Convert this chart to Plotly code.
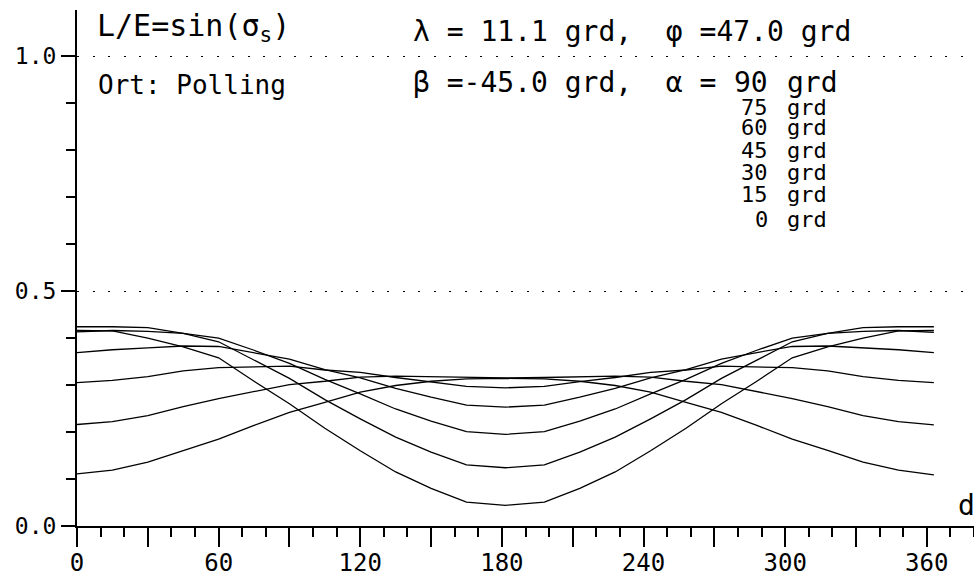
import plotly.graph_objects as go

# day of year
days = [0, 15, 30, 45, 60, 75, 90, 105, 120, 135, 150, 165, 181.5,
        198, 213, 228, 243, 258, 273, 288, 303, 318, 333, 348, 363]

# L/E for tilt angles alpha (grd)
alpha_0 = [0.111, 0.119, 0.136, 0.161, 0.185, 0.214, 0.242, 0.263, 0.285, 0.299, 0.308, 0.313, 0.314,
           0.313, 0.308, 0.299, 0.285, 0.263, 0.242, 0.214, 0.185, 0.161, 0.136, 0.119, 0.109]
alpha_15 = [0.216, 0.222, 0.235, 0.254, 0.271, 0.286, 0.301, 0.308, 0.317, 0.319, 0.318, 0.316, 0.315,
            0.316, 0.318, 0.319, 0.317, 0.308, 0.301, 0.286, 0.271, 0.254, 0.235, 0.222, 0.215]
alpha_30 = [0.305, 0.310, 0.318, 0.330, 0.337, 0.339, 0.340, 0.332, 0.327, 0.316, 0.307, 0.297, 0.294,
            0.297, 0.307, 0.316, 0.327, 0.332, 0.340, 0.339, 0.337, 0.330, 0.318, 0.310, 0.305]
alpha_45 = [0.369, 0.375, 0.379, 0.383, 0.382, 0.369, 0.355, 0.333, 0.315, 0.293, 0.274, 0.257, 0.253,
            0.257, 0.274, 0.293, 0.315, 0.333, 0.355, 0.369, 0.382, 0.383, 0.379, 0.375, 0.369]
alpha_60 = [0.413, 0.416, 0.414, 0.410, 0.400, 0.374, 0.346, 0.312, 0.281, 0.249, 0.223, 0.201, 0.195,
            0.201, 0.223, 0.249, 0.281, 0.312, 0.346, 0.374, 0.400, 0.410, 0.414, 0.416, 0.412]
alpha_75 = [0.424, 0.424, 0.422, 0.410, 0.392, 0.353, 0.314, 0.269, 0.228, 0.189, 0.157, 0.130, 0.124,
            0.130, 0.157, 0.189, 0.228, 0.269, 0.314, 0.353, 0.392, 0.410, 0.422, 0.424, 0.424]
alpha_90 = [0.416, 0.415, 0.400, 0.381, 0.358, 0.308, 0.260, 0.208, 0.160, 0.115, 0.080, 0.051, 0.044,
            0.051, 0.080, 0.115, 0.160, 0.208, 0.260, 0.308, 0.358, 0.381, 0.400, 0.415, 0.416]

series = [alpha_0, alpha_15, alpha_30, alpha_45, alpha_60, alpha_75, alpha_90]
alpha_values = ["90", "75", "60", "45", "30", "15", "0"]
unit = "grd"

FONT = "DejaVu Sans Mono"
W, H = 974, 578
ML, MR, MT, MB = 77, 0, 10, 52

fig = go.Figure()
for s in series:
    fig.add_trace(go.Scatter(x=days, y=s, mode="lines",
                             line=dict(color="black", width=1.3),
                             showlegend=False, hoverinfo="skip"))

def px(X):
    return (X - ML) / (W - ML - MR)

def py(Y):
    return (H - MB - Y) / (H - MT - MB)

NB = "\u00a0"
ann = []
def txt(s, X, Y, size, anchor="left"):
    ann.append(dict(text=s.replace(" ", NB), x=px(X), y=py(Y), xref="paper", yref="paper",
                    xanchor=anchor, yanchor="middle", showarrow=False,
                    font=dict(family=FONT, size=size, color="black")))

txt("L/E=sin(σ<sub>s</sub>)", 95, 28, 30)
txt("Ort: Polling", 96, 85, 26)
txt("λ = 11.1 grd,  φ =47.0 grd", 411, 32, 28)
txt("β =-45.0 grd,  α =", 411, 82, 28)
row_y = [82, 107, 128, 150, 172, 195, 219]
for i, (val, yy) in enumerate(zip(alpha_values, row_y)):
    size = 28 if i == 0 else 22
    txt(val, 770, yy, size, anchor="right")
    txt(unit, 785, yy, size, anchor="left")
txt("d", 956, 505, 28)

fig.update_layout(
    width=W, height=H,
    margin=dict(l=ML, r=MR, t=MT, b=MB, pad=0),
    paper_bgcolor="white", plot_bgcolor="white",
    annotations=ann,
    font=dict(family=FONT, color="black"),
)
fig.update_xaxes(
    range=[0, 380], showline=True, linecolor="black", linewidth=2,
    tickmode="linear", tick0=0, dtick=30, ticklabelstep=2,
    ticks="outside", ticklen=19, tickwidth=1.5, tickcolor="black",
    tickfont=dict(family=FONT, size=24, color="black"),
    ticklabelstandoff=-5,
    minor=dict(tickmode="linear", tick0=0, dtick=10, ticks="outside", ticklen=9,
               tickwidth=1.5, tickcolor="black", showgrid=False),
    showgrid=False, zeroline=False, automargin=False,
)
fig.update_yaxes(
    range=[0, 1.098], showline=True, linecolor="black", linewidth=2,
    tickmode="linear", tick0=0, dtick=0.5, tickformat=".1f",
    ticks="outside", ticklen=14, tickwidth=1.5, tickcolor="black",
    tickfont=dict(family=FONT, size=23, color="black"),
    minor=dict(tickmode="linear", tick0=0, dtick=0.1, ticks="outside", ticklen=9,
               tickwidth=1.5, tickcolor="black", showgrid=False),
    showgrid=True, gridcolor="black", gridwidth=1.2, griddash="2px,13.5px",
    zeroline=False, automargin=False,
)

fig.write_html("out.html", config={"displayModeBar": False},
               post_script="document.body.style.margin='0px';")
